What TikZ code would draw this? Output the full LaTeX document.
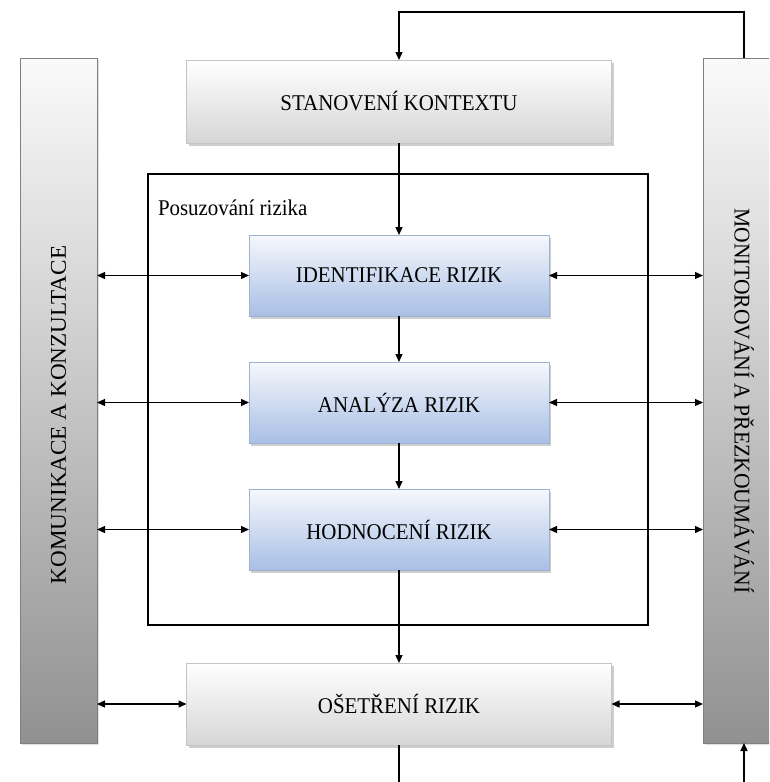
\documentclass[tikz,border=0pt]{standalone}
\usepackage{fontspec}
\setmainfont{Liberation Serif}
\usetikzlibrary{arrows.meta,shadows}
\definecolor{bluetop}{RGB}{246,248,252}
\definecolor{bluebot}{RGB}{168,191,229}
\definecolor{blueedge}{RGB}{160,178,210}
\definecolor{greyedge}{RGB}{196,196,196}
\definecolor{greybot}{RGB}{214,214,214}
\definecolor{bartop}{RGB}{250,250,250}
\definecolor{barbot}{RGB}{145,145,145}
\newcommand{\boxlabel}[1]{\scalebox{0.93}[1]{#1}}
\begin{document}
\begin{tikzpicture}[x=1pt,y=-1pt,
  every node/.style={inner sep=0pt,outer sep=0pt},
  txt/.style={font=\fontsize{22.5}{26}\selectfont},
  boxshadow/.style={drop shadow={shadow xshift=2pt,shadow yshift=-3pt,opacity=.35,fill=black!55}},
  greybox/.style={rectangle,draw=greyedge,line width=.6pt,top color=white,bottom color=greybot,
    boxshadow,minimum width=425pt,minimum height=83pt,txt},
  bluebox/.style={rectangle,draw=blueedge,line width=.6pt,top color=bluetop,bottom color=bluebot,
    boxshadow,minimum width=300pt,minimum height=81pt,txt},
  bar/.style={rectangle,draw=black!50,line width=.6pt,top color=bartop,bottom color=barbot,
    drop shadow={shadow xshift=2pt,shadow yshift=-2pt,opacity=.25,fill=black!50},
    minimum height=685pt},
  frame/.style={rectangle,draw=black,line width=1.1pt,minimum width=500pt,minimum height=451pt},
  link/.style={line width=1.3pt,-{Triangle[length=8pt,width=7pt]}},
  dbl/.style={line width=1.3pt,{Triangle[length=8pt,width=7pt]}-{Triangle[length=8pt,width=7pt]}}
]
\useasboundingbox (0,0) rectangle (769,782);
\clip (0,0) rectangle (769,782);
\fill[white] (0,0) rectangle (769,782);

% side bars
\node[bar,minimum width=77pt] (lbar) at (58.5,400.5) {};
\node[bar,minimum width=82pt] (rbar) at (744,400.5) {};
\node[txt,rotate=90] (ltext) at (58.5,415) {\scalebox{1.03}[1]{KOMUNIKACE A KONZULTACE}};
\node[txt,rotate=-90] (rtext) at (744,401) {\scalebox{0.96}[1]{MONITOROVÁNÍ A PŘEZKOUMÁVÁNÍ}};

% risk assessment frame
\node[frame] (frame) at (398,399.5) {};
\node[txt,anchor=west] (flabel) at (158,208) {\boxlabel{Posuzování rizika}};

% process boxes
\node[greybox] (ctx) at (399,101.5) {\boxlabel{STANOVENÍ KONTEXTU}};
\node[bluebox] (ident) at (399,275.5) {\boxlabel{IDENTIFIKACE RIZIK}};
\node[bluebox] (anal) at (399,402.5) {\boxlabel{ANALÝZA RIZIK}};
\node[bluebox] (eval) at (399,529.5) {\boxlabel{HODNOCENÍ RIZIK}};
\node[greybox,minimum height=82pt] (treat) at (399,704) {\boxlabel{OŠETŘENÍ RIZIK}};

% main flow
\draw[link] (ctx.south) -- (ident.north);
\draw[link] (ident.south) -- (anal.north);
\draw[link] (anal.south) -- (eval.north);
\draw[link] (eval.south) -- (treat.north);

% feedback loop from monitoring back to context
\coordinate (toprow) at (0,12);
\draw[link] (rbar.north) -- (rbar.north |- toprow) -| (ctx.north);
\coordinate (botleft) at (399,782);
\coordinate (botright) at (744,782);
\draw[line width=1.3pt] (treat.south) -- (botleft);
\draw[link] (botright) -- (rbar.south);

% communication and monitoring links
\foreach \b in {ident,anal,eval,treat}{
  \draw[dbl] (lbar.east |- \b.west) -- (\b.west);
  \draw[dbl] (\b.east) -- (rbar.west |- \b.east);
}
\end{tikzpicture}
\end{document}
